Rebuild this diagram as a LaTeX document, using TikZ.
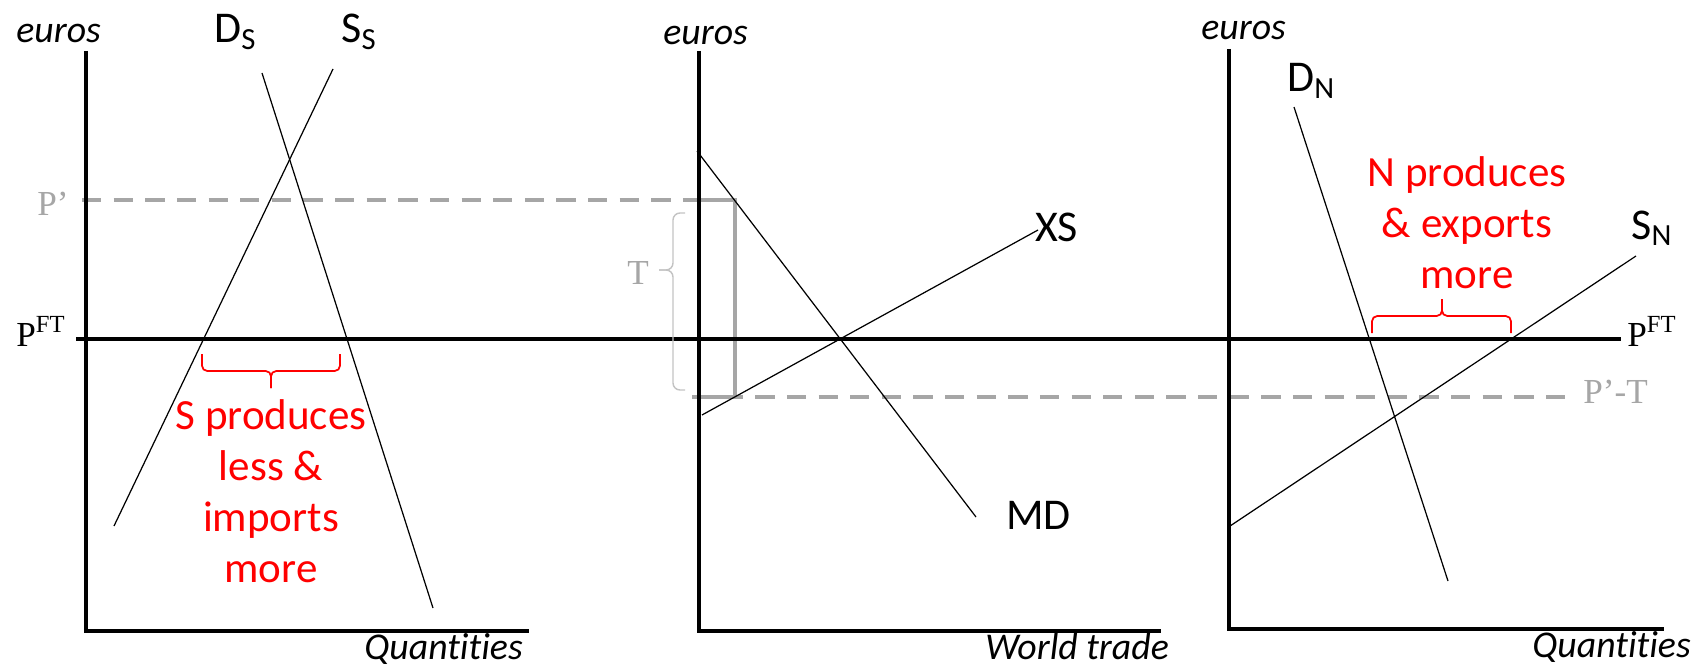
\documentclass[tikz,border=0pt]{standalone}
\usepackage{fontspec}
\setmainfont{Carlito}[Ligatures=NoCommon]
\newfontfamily\pserif{Liberation Serif}
\usetikzlibrary{positioning,calc}
\definecolor{PriceGrey}{RGB}{166,166,166}
\definecolor{BraceGrey}{RGB}{195,195,195}
\definecolor{NoteRed}{RGB}{255,0,0}
\tikzset{
  axis/.style={line width=2.6pt},
  curve/.style={line width=0.7pt},
  pdash/.style={draw=PriceGrey,line width=2pt,dash pattern=on 11pt off 7pt},
  tbox/.style={draw=PriceGrey,line width=1.8pt},
  lbl/.style={inner sep=0pt,anchor=base west,font=\fontsize{25}{30}\selectfont},
  axlbl/.style={inner sep=0pt,anchor=base west,font=\fontsize{21.5}{26}\selectfont\itshape},
  plbl/.style={inner sep=0pt,anchor=base west,font=\fontsize{20}{24}\selectfont\pserif},
  note/.style={text=NoteRed,align=center,font=\fontsize{24.5}{29}\selectfont},
  rbrace/.style={draw=NoteRed,line width=1pt,rounded corners=3pt},
  tbrace/.style={draw=BraceGrey,line width=0.8pt,rounded corners=4pt},
}
\begin{document}
\begin{tikzpicture}[x=0.02cm,y=-0.02cm]
  \useasboundingbox (0,0) rectangle (1698,669);
  \coordinate (sTop) at (86,51); \coordinate (sO) at (86,631); \coordinate (sEnd) at (529,631);
  \coordinate (wTop) at (699,51); \coordinate (wO) at (699,631); \coordinate (wEnd) at (1161,631);
  \coordinate (nTop) at (1229,49); \coordinate (nO) at (1229,629); \coordinate (nEnd) at (1664,629);
  \coordinate (pL) at (82,200); \coordinate (pR) at (699,200);
  \coordinate (ptL) at (692,397); \coordinate (ptR) at (1575,397);
  \coordinate (pftL) at (76,339); \coordinate (pftR) at (1621,339);
  \draw[pdash] (pL) -- (pR);
  \draw[pdash] (ptL) -- (ptR);
  \draw[tbox] (pR) -- (735,200) -- (735,397) -- (699,397);
  \draw[axis] (sTop) -- (sO) -- (sEnd);
  \draw[axis] (wTop) -- (wO) -- (wEnd);
  \draw[axis] (nTop) -- (nO) -- (nEnd);
  \draw[axis] (pftL) -- (pftR);
  \draw[curve] (262,73) coordinate (ds1) -- (433,608) coordinate (ds2);
  \draw[curve] (333,69) coordinate (ss1) -- (114,526) coordinate (ss2);
  \draw[curve] (697,151) coordinate (md1) -- (976,517) coordinate (md2);
  \draw[curve] (702,415) coordinate (xs1) -- (1038,230) coordinate (xs2);
  \draw[curve] (1294,107) coordinate (dn1) -- (1448,581) coordinate (dn2);
  \draw[curve] (1230,526) coordinate (sn1) -- (1636,256) coordinate (sn2);
  \draw[rbrace] (202,354) -- (202,371) -- (271,371) -- (271,388);
  \draw[rbrace] (340,354) -- (340,371) -- (271,371) -- (271,388);
  \draw[rbrace] (1372,333) -- (1372,316) -- (1442,316) -- (1442,299);
  \draw[rbrace] (1511,333) -- (1511,316) -- (1442,316) -- (1442,299);
  \draw[tbrace] (685,213) -- (673,213) -- (673,270) -- (659,270);
  \draw[tbrace] (685,390) -- (673,390) -- (673,270) -- (659,270);
  \node[axlbl] (euS) at (16,43) {euros};
  \node[lbl] (dS) at (214,43) {D\textsubscript{S}};
  \node[lbl] (sS) at (341,43) {S\textsubscript{S}};
  \node[plbl,text=PriceGrey] (pp) at (37,215) {P’};
  \node[plbl] (pftS) at (16,346) {P\textsuperscript{FT}};
  \node[note] (noteS) at (271,491) {S produces\\less \&\\imports\\more};
  \node[axlbl] (qS) at (364,659) {Quantities};
  \node[axlbl] (euW) at (663,45) {euros};
  \node[lbl] (xs) at (1035,241) {XS};
  \node[lbl] (md) at (1006,529) {MD};
  \node[plbl,text=PriceGrey] (tl) at (627,284) {T};
  \node[axlbl] (wt) at (985,659) {World trade};
  \node[axlbl] (euN) at (1201,40) {euros};
  \node[lbl] (dN) at (1287,92) {D\textsubscript{N}};
  \node[lbl] (sN) at (1631,239) {S\textsubscript{N}};
  \node[plbl] (pftN) at (1627,346) {P\textsuperscript{FT}};
  \node[plbl,text=PriceGrey] (ppt) at (1583,403) {P’-T};
  \node[note] (noteN) at (1467,223) {N produces\\\& exports\\more};
  \node[axlbl] (qN) at (1532,657) {Quantities};
\end{tikzpicture}
\end{document}
